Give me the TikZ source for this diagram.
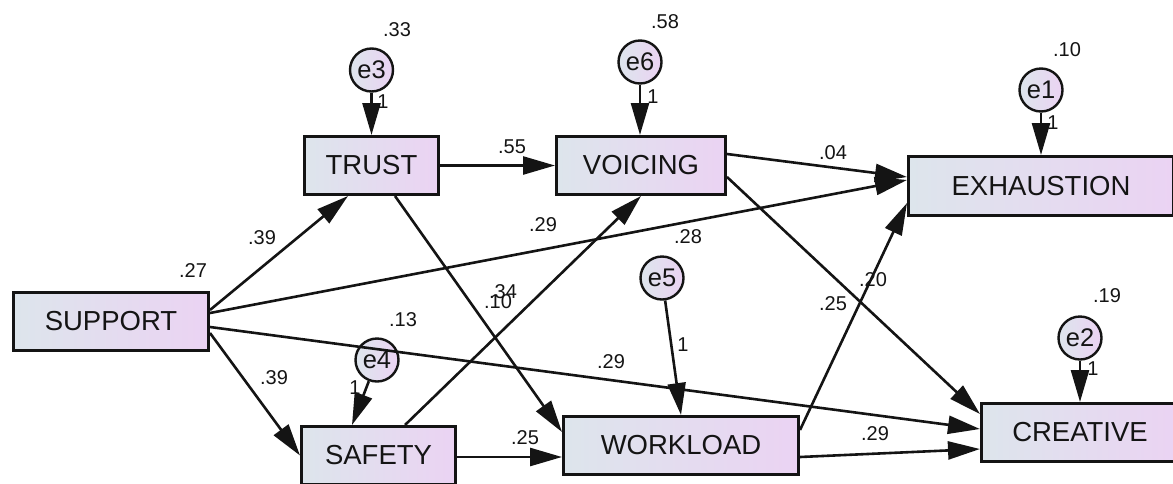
\documentclass[tikz,border=0pt]{standalone}
\usepackage{fontspec}
\setmainfont{Liberation Sans}
\usetikzlibrary{arrows.meta}
\definecolor{boxL}{RGB}{221,229,236}
\definecolor{boxR}{RGB}{235,211,243}
\definecolor{ink}{RGB}{20,20,20}
\tikzset{
  var/.style={rectangle, draw=ink, line width=3pt, left color=boxL, right color=boxR,
    minimum height=58pt, inner sep=0pt, text=ink, font=\fontsize{27.5}{27.5}\selectfont},
  err/.style={circle, draw=ink, line width=2.4pt, left color=boxL, right color=boxR,
    minimum size=43pt, inner sep=0pt, text=ink, font=\fontsize{25.5}{25.5}\selectfont},
  coef/.style={inner sep=0pt, text=ink, font=\fontsize{20}{20}\selectfont},
  link/.style={draw=ink, line width=2.6pt, -{Triangle[length=32pt,width=18pt]}},
}
\begin{document}
\begin{tikzpicture}[x=1pt,y=-1pt]
\useasboundingbox (0,0) rectangle (1173,483);
\clip (0,0) rectangle (1173,483);

% observed variables
\node[var, minimum width=195pt] (support) at (111,321.5) {SUPPORT};
\node[var, minimum width=134pt] (trust) at (371.5,165.5) {TRUST};
\node[var, minimum width=169pt] (voicing) at (641,165.5) {VOICING};
\node[var, minimum width=265pt, minimum height=59pt] (exh) at (1041,186) {EXHAUSTION};
\node[var, minimum width=154pt] (safety) at (378.5,455.5) {SAFETY};
\node[var, minimum width=235pt] (workload) at (681,445.5) {WORKLOAD};
\node[var, minimum width=197pt] (creative) at (1080,432.5) {CREATIVE};

% error terms
\node[err] (e3) at (371.5,70) {e3};
\node[err] (e6) at (640,62) {e6};
\node[err] (e1) at (1041,90) {e1};
\node[err] (e4) at (377,360) {e4};
\node[err] (e5) at (662,278) {e5};
\node[err] (e2) at (1080,338) {e2};

% error paths
\draw[link] (e3.south) -- (e3.south |- trust.north);
\draw[link] (e6.south) -- (e6.south |- voicing.north);
\draw[link] (e1.south) -- (e1.south |- exh.north);
\draw[link] (e2.south) -- (e2.south |- creative.north);
\draw[link] (e4) -- ([xshift=-26.5pt]safety.north);
\draw[link] (e5) -- (workload.north);

% structural paths
\draw[link] ([yshift=11.5pt]support.east) -- ([xshift=-23.5pt]trust.south);
\draw[link] ([yshift=8.5pt]support.east) -- ([yshift=6pt]exh.west);
\draw[link] ([yshift=-5.5pt]support.east) -- ([yshift=3.5pt]creative.west);
\draw[link] ([yshift=-11.5pt]support.east) -- (safety.west);
\draw[link] (trust.east) -- (voicing.west);
\draw[link] ([xshift=23.5pt]trust.south) -- ([yshift=13.5pt]workload.west);
\draw[link] ([yshift=11.5pt]voicing.east) -- ([yshift=9pt]exh.west);
\draw[link] ([yshift=-11.5pt]voicing.east) -- ([yshift=18.5pt]creative.west);
\draw[link] ([xshift=26.5pt]safety.north) -- (voicing.south);
\draw[link] ([yshift=-1.5pt]safety.east) -- ([yshift=-11.5pt]workload.west);
\draw[link] ([yshift=15.5pt]workload.east) -- ([yshift=-17pt]exh.west);
\draw[link] ([yshift=-11.5pt]workload.east) -- ([yshift=-16.5pt]creative.west);

% variances / squared multiple correlations
\node[coef] (r3) at (397,30) {.33};
\node[coef] (r6) at (665,22) {.58};
\node[coef] (r1) at (1067,50) {.10};
\node[coef] (rs) at (193,271) {.27};
\node[coef] (r4) at (403,320) {.13};
\node[coef] (r5) at (688,237) {.28};
\node[coef] (r2) at (1107,296) {.19};

% fixed loadings
\node[coef] (f3) at (383,102) {1};
\node[coef] (f6) at (653,97) {1};
\node[coef] (f1) at (1053,123) {1};
\node[coef] (f4) at (355,388) {1};
\node[coef] (f5) at (683,345) {1};
\node[coef] (f2) at (1093,369) {1};

% path coefficients
\node[coef] (c1) at (262,238) {.39};
\node[coef] (c2) at (274,378) {.39};
\node[coef] (c3) at (512,147) {.55};
\node[coef] (c4) at (833,153) {.04};
\node[coef] (c5) at (543,225) {.29};
\node[coef] (c6) at (503,292) {.34};
\node[coef] (c7) at (498,302) {.10};
\node[coef] (c8) at (611,362) {.29};
\node[coef] (c9) at (525,438) {.25};
\node[coef] (c10) at (833,304) {.25};
\node[coef] (c11) at (873,280) {.20};
\node[coef] (c12) at (875,434) {.29};
\end{tikzpicture}
\end{document}
